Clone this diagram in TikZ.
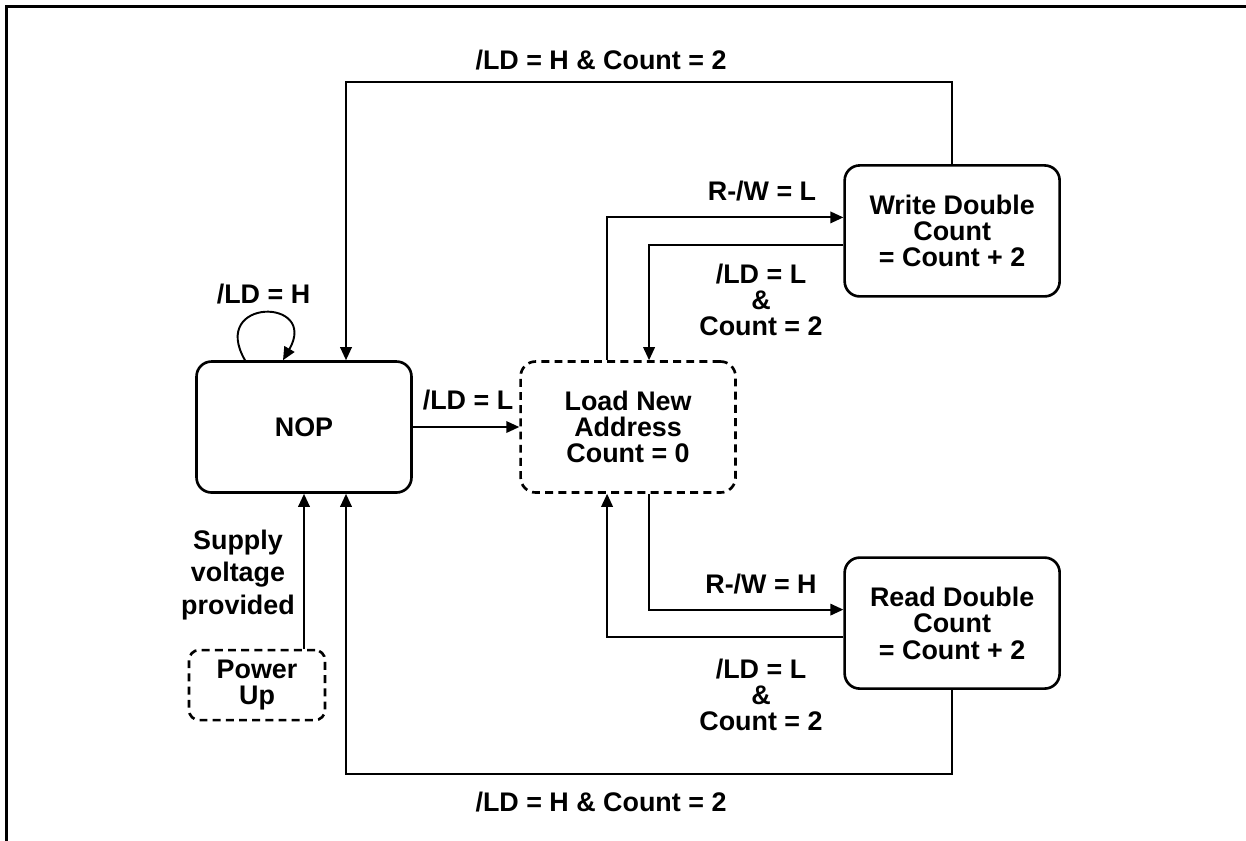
\documentclass[tikz,border=0pt]{standalone}
\usepackage{fontspec}
\setmainfont{Liberation Sans}
\usetikzlibrary{arrows.meta, positioning}

\begin{document}
\begin{tikzpicture}[x=0.02cm, y=-0.02cm,
  >={Triangle[length=0.26cm, width=0.23cm]},
  every node/.style={font=\fontsize{15.3}{15}\selectfont\bfseries, align=center},
  state/.style={draw, rounded corners=0.3cm, line width=1.5pt, minimum width=4.3cm, minimum height=2.62cm},
  entry/.style={state, dash pattern=on 4.5pt off 3pt},
  link/.style={->, line width=1.1pt}]

  \useasboundingbox (0,0) rectangle (1246,840);
  % frame
  \draw[line width=1.7pt] (6.5,860) -- (6.5,6.5) -- (1260,6.5);

  %%%%%%%%%%%%%%%%%%
  \node (nop) [state] at (304,427) {NOP};

  \node (load) [entry, right=2.13cm of nop] {Load New\\Address\\Count = 0};

  \node (write) [state, above right=1.25cm and 2.13cm of load] {Write Double\\Count\\= Count + 2};

  \node (read) [state, below right=1.25cm and 2.13cm of load] {Read Double\\Count\\= Count + 2};

  \node (power) [entry, rounded corners=0.2cm, minimum width=2.72cm, minimum height=1.4cm, below=3.1cm of nop, xshift=-0.94cm] {Power\\Up};

  %%%%%%%%%%%%%%%%%
  \coordinate (topturn) at (346,82);
  \coordinate (botturn) at (346,774);

  %%%%%%%%%%%%%%%%%
  \node (selfcond) at (263.5,294) {/LD = H};
  \node (loadcond) at (468,400) {/LD = L};
  \node (supply) [font=\fontsize{15.3}{18.7}\selectfont\bfseries] at (238,575) {Supply\\voltage\\provided};

  \node (wcond) at (762,191) {R-/W = L};
  \node (wback) at (761,300) {/LD = L\\\&\\Count = 2};
  \node (rcond) at (761,584) {R-/W = H};
  \node (rback) at (761,695) {/LD = L\\\&\\Count = 2};

  \node (topcond) at (601,60) {/LD = H \& Count = 2};
  \node (botcond) at (601,802) {/LD = H \& Count = 2};

  %%%%%%%%%%%%%%%%%%%%
  %%%%%%%%%%%%%%%%%%%%
  \draw [link] ([xshift=-1.18cm]nop.north) .. controls +(120:1.45cm) and +(60:1.45cm) .. ([xshift=-0.42cm]nop.north);
  \draw [link] (nop.east) -- (load.west);
  \draw [link] (power.north -| nop.south) -- (nop.south);

  \draw [link] ([xshift=-0.42cm]load.north) |- ([yshift=0.27cm]write.west);
  \draw [link] ([yshift=-0.29cm]write.west) -| ([xshift=0.42cm]load.north);

  \draw [link] ([xshift=0.42cm]load.south) |- ([yshift=0.27cm]read.west);
  \draw [link] ([yshift=-0.27cm]read.west) -| ([xshift=-0.42cm]load.south);

  \draw [link] (write.north) |- (topturn) -- (topturn |- nop.north);
  \draw [link] (read.south) |- (botturn) -- (botturn |- nop.south);

\end{tikzpicture}
\end{document}
